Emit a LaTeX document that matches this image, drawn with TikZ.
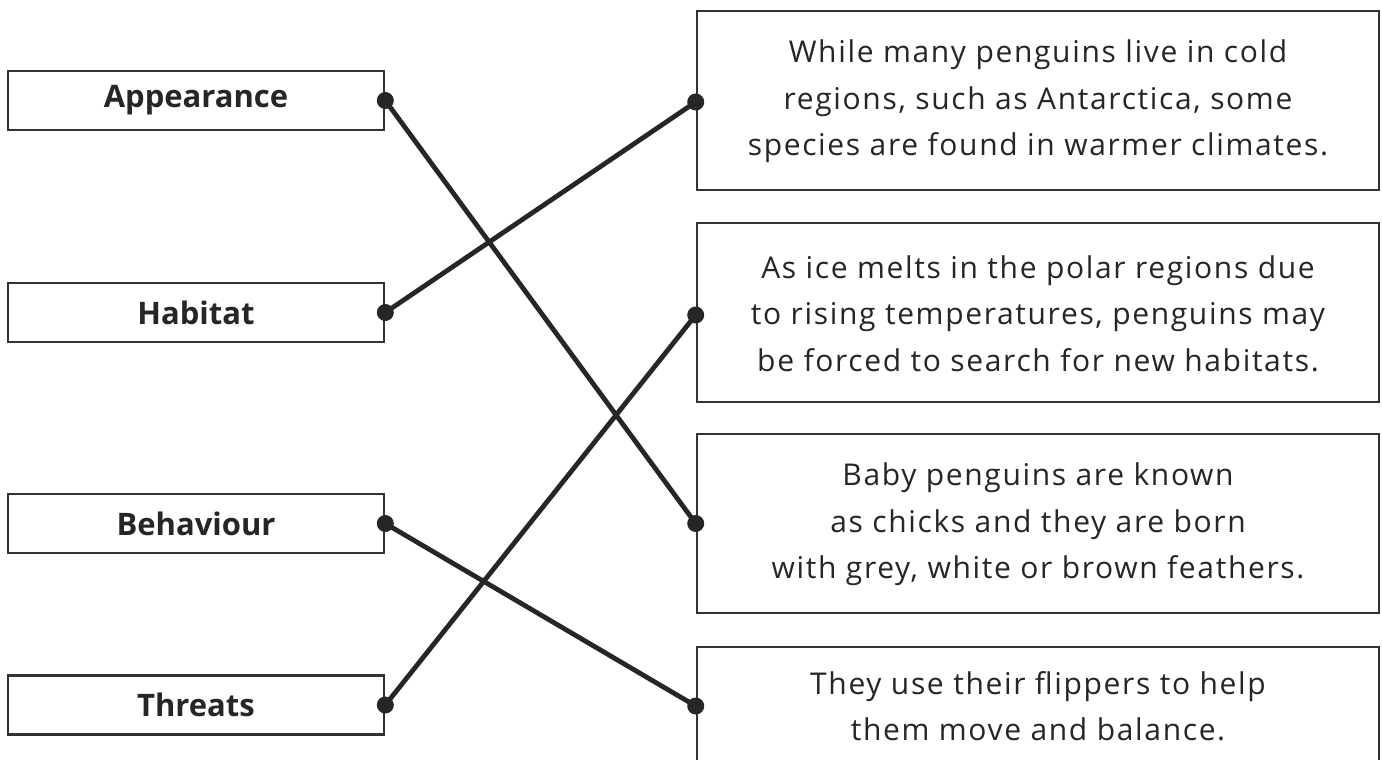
\documentclass[tikz,border=0pt]{standalone}
\usepackage{fontspec}
\setmainfont{Open Sans}
\newfontfamily\bodyfont[LetterSpace=5.5]{Open Sans}
\begin{document}
\begin{tikzpicture}[x=1pt,y=-1pt,
  boxline/.style={draw=black!80, line width=2.6pt},
  leftbox/.style={boxline, minimum width=376pt, minimum height=59pt, inner sep=0pt,
     font=\fontsize{31}{36}\selectfont\bfseries, text=black!85},
  rightbox/.style={boxline, minimum width=682pt, minimum height=179pt, inner sep=0pt},
  bodytext/.style={align=center, inner sep=0pt, font=\bodyfont\fontsize{30}{46.5}\selectfont, text=black!85},
  link/.style={draw=black!85, line width=4.8pt},
  dot/.style={fill=black!85, draw=none, circle, minimum size=17pt, inner sep=0pt}]
\useasboundingbox (0,0) rectangle (1382,760);
\fill[white] (0,0) rectangle (1382,760);

% left boxes
\node[leftbox] (a) at (196,100.5) {Appearance};
\node[leftbox] (h) at (196,312.5) {Habitat};
\node[leftbox] (be) at (196,523.5) {Behaviour};
\node[leftbox] (th) at (196,705) {Threats};

% right boxes
\node[rightbox] (r1) at (1038,100.5) {};
\node[bodytext] (t1) at (1038,101.5) {While many penguins live in cold\\regions, such as Antarctica, some\\species are found in warmer climates.};
\node[rightbox] (r2) at (1038,312.5) {};
\node[bodytext] (t2) at (1038,313.5) {As ice melts in the polar regions due\\to rising temperatures, penguins may\\be forced to search for new habitats.};
\node[rightbox] (r3) at (1038,523.5) {};
\node[bodytext] (t3) at (1038,524.5) {Baby penguins are known\\as chicks and they are born\\with grey, white or brown feathers.};
\node[rightbox] (r4) at (1038,736.5) {};
\node[bodytext] (t4) at (1038,706) {They use their flippers to help\\them move and balance.};

% connection points
\coordinate (pa) at (a.east);
\coordinate (ph) at (h.east);
\coordinate (pb) at (be.east);
\coordinate (pt) at (th.east);
\coordinate (q1) at ([yshift=-1.5pt]r1.west);
\coordinate (q2) at ([yshift=-2.5pt]r2.west);
\coordinate (q3) at (r3.west);
\coordinate (q4) at (r4.west |- t4);

\draw[link] (pa) -- (q3);
\draw[link] (ph) -- (q1);
\draw[link] (pb) -- (q4);
\draw[link] (pt) -- (q2);

\foreach \p in {pa,ph,pb,pt,q1,q2,q3,q4} \node[dot] at (\p) {};
\end{tikzpicture}
\end{document}
